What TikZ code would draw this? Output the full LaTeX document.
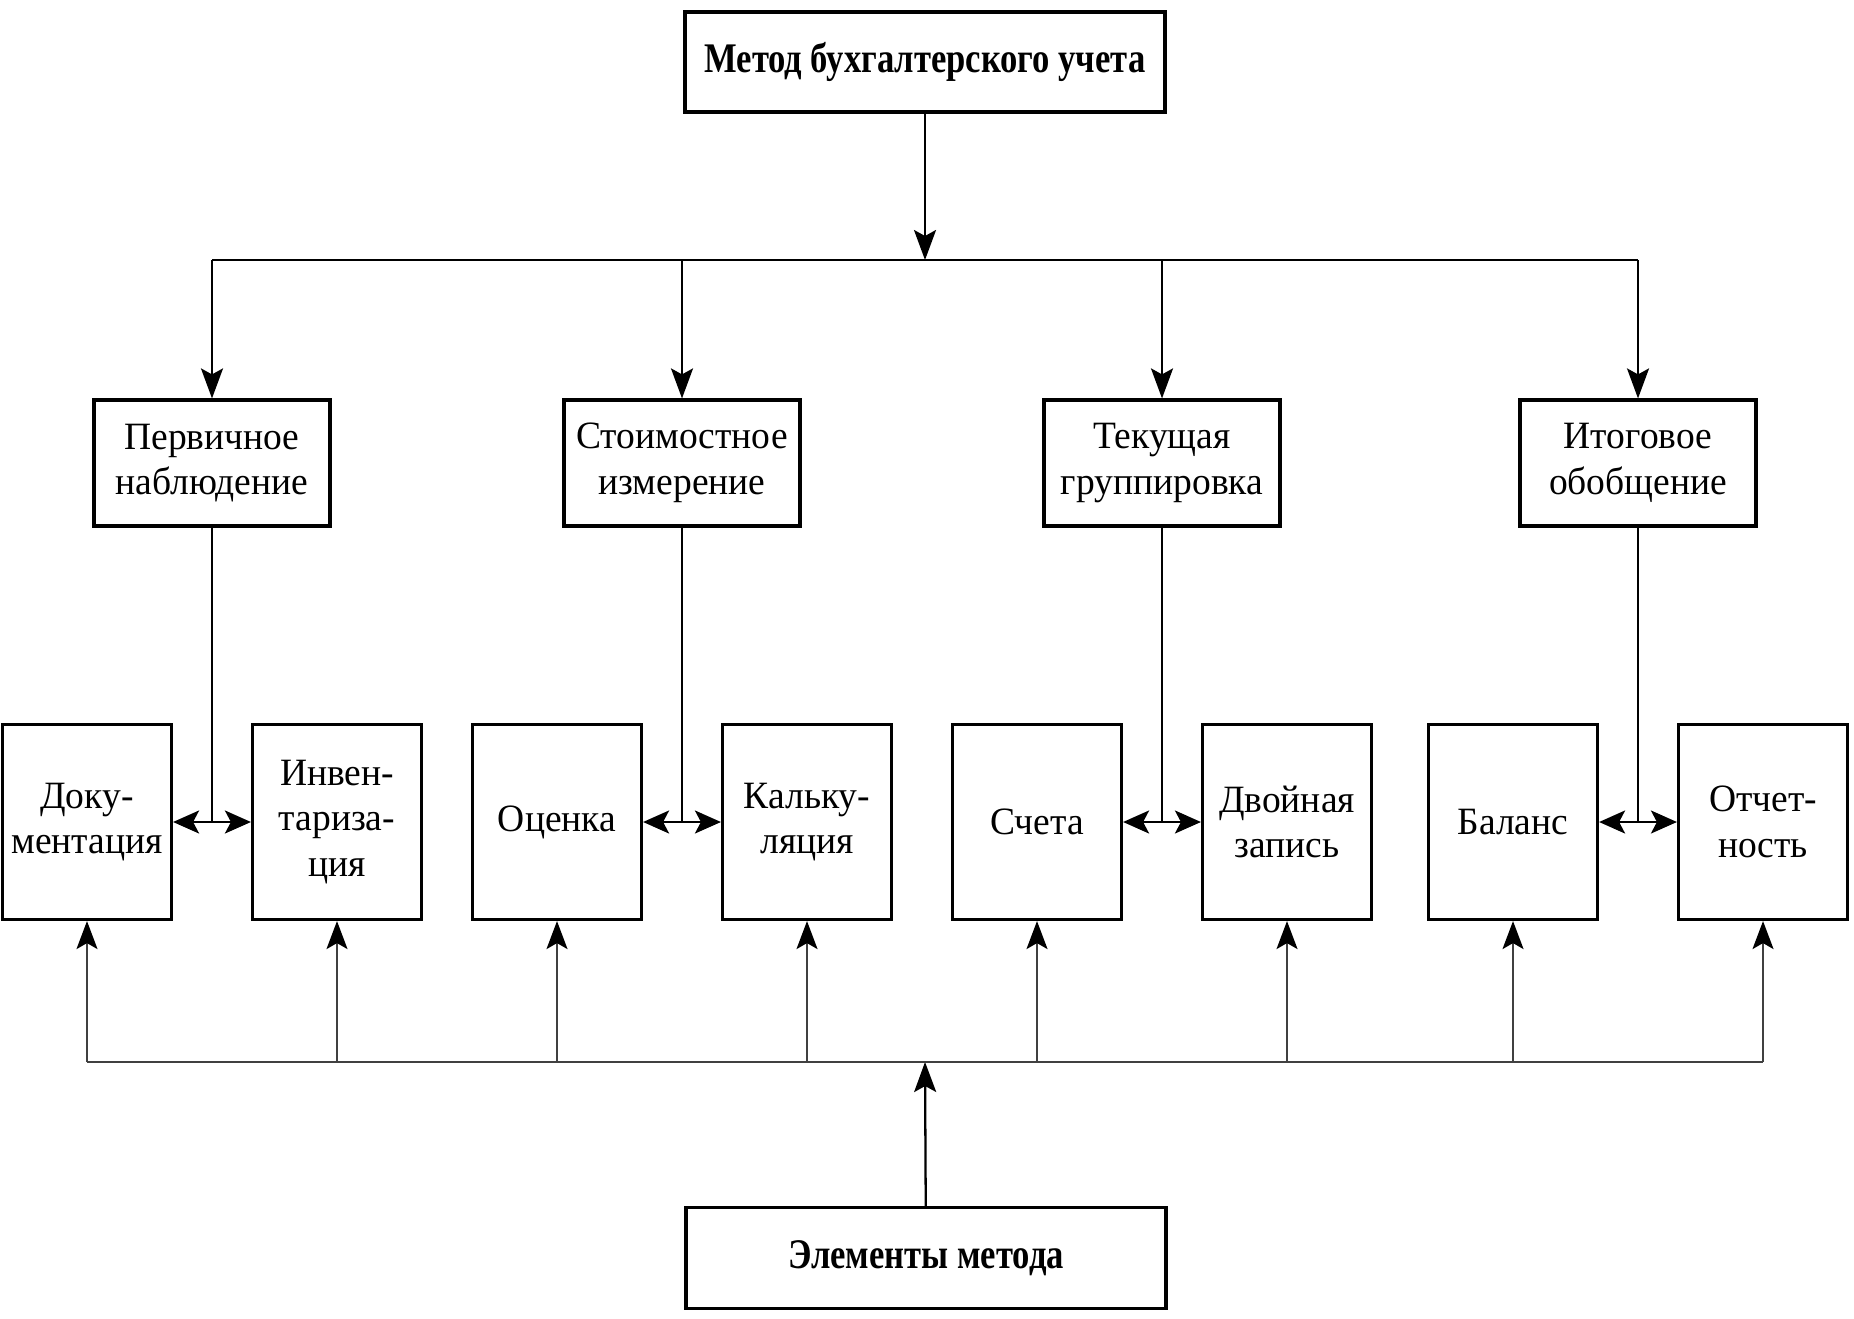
\documentclass[tikz,border=0pt]{standalone}
\usepackage{fontspec}
\setmainfont{Liberation Serif}[FakeStretch=0.97]
\newfontfamily\headfont{Liberation Serif}[FakeStretch=0.82]
\usetikzlibrary{arrows.meta,positioning}
\tikzset{
    box/.style={draw, line width=0.9pt, align=center, inner sep=2pt},
    head box/.style={box, minimum width=4.8cm, minimum height=1cm, font=\headfont\bfseries\fontsize{12}{14}\selectfont},
    group box/.style={box, minimum width=2.36cm, minimum height=1.26cm},
    element box/.style={box, minimum width=1.69cm, minimum height=1.95cm},
    line/.style={line width=0.65pt},
    arr/.style={line, -{Stealth[length=3mm,width=2.2mm,inset=0.6mm]}},
    darr/.style={line, {Stealth[length=2.6mm,width=2.3mm,inset=0.6mm]}-{Stealth[length=2.6mm,width=2.3mm,inset=0.6mm]}},
    feed line/.style={line width=0.5pt, black!75},
    feed/.style={feed line, -{Stealth[length=2.8mm,width=2.1mm,inset=0.6mm,color=black]}},
}
\tikzstyle{every node}=[font=\fontsize{11}{13}\selectfont]

\begin{document}
\begin{tikzpicture}
        \useasboundingbox (0,0) rectangle (18.54,13.18);
        \node[head box] (method) at (9.25,12.56) {Метод бухгалтерского учета};
        \node[head box, minimum height=1.01cm] (elements) at (9.26,0.60) {Элементы метода};

        \node[group box] (observe) at (2.12,8.55) {Первичное\\наблюдение};
        \node[group box] (measure) at (6.82,8.55) {Стоимостное\\измерение};
        \node[group box] (grouping) at (11.62,8.55) {Текущая\\группировка};
        \node[group box] (summary) at (16.38,8.55) {Итоговое\\обобщение};

        \node[element box] (docs) at (0.87,4.96) {Доку-\\ментация};
        \node[element box] (inventory) at (3.37,4.96) {Инвен-\\тариза-\\ция};
        \node[element box] (valuation) at (5.57,4.96) {Оценка};
        \node[element box] (costing) at (8.07,4.96) {Кальку-\\ляция};
        \node[element box] (accounts) at (10.37,4.96) {Счета};
        \node[element box] (double) at (12.87,4.96) {Двойная\\запись};
        \node[element box] (balance) at (15.13,4.96) {Баланс};
        \node[element box] (reports) at (17.63,4.96) {Отчет-\\ность};

        % upper bus
        \coordinate (top bus) at (9.25,10.58);
        \draw[arr] (method) -- (top bus);
        \draw[line] (observe |- top bus) -- (summary |- top bus);
        \foreach \g in {observe,measure,grouping,summary}
            \draw[arr] (\g |- top bus) -- (\g);

        \foreach \g/\a/\b in {observe/docs/inventory,measure/valuation/costing,grouping/accounts/double,summary/balance/reports} {
            \draw[line] (\g) -- (\g |- \a);
            \draw[darr] (\a) -- (\b);
        };

        % lower bus
        \coordinate (low bus) at (9.25,2.56);
        \draw[arr] (elements) -- (low bus);
        \draw[feed line] (docs |- low bus) -- (reports |- low bus);
        \foreach \e in {docs,inventory,valuation,costing,accounts,double,balance,reports}
            \draw[feed] (\e |- low bus) -- (\e);
    \end{tikzpicture}
\end{document}
